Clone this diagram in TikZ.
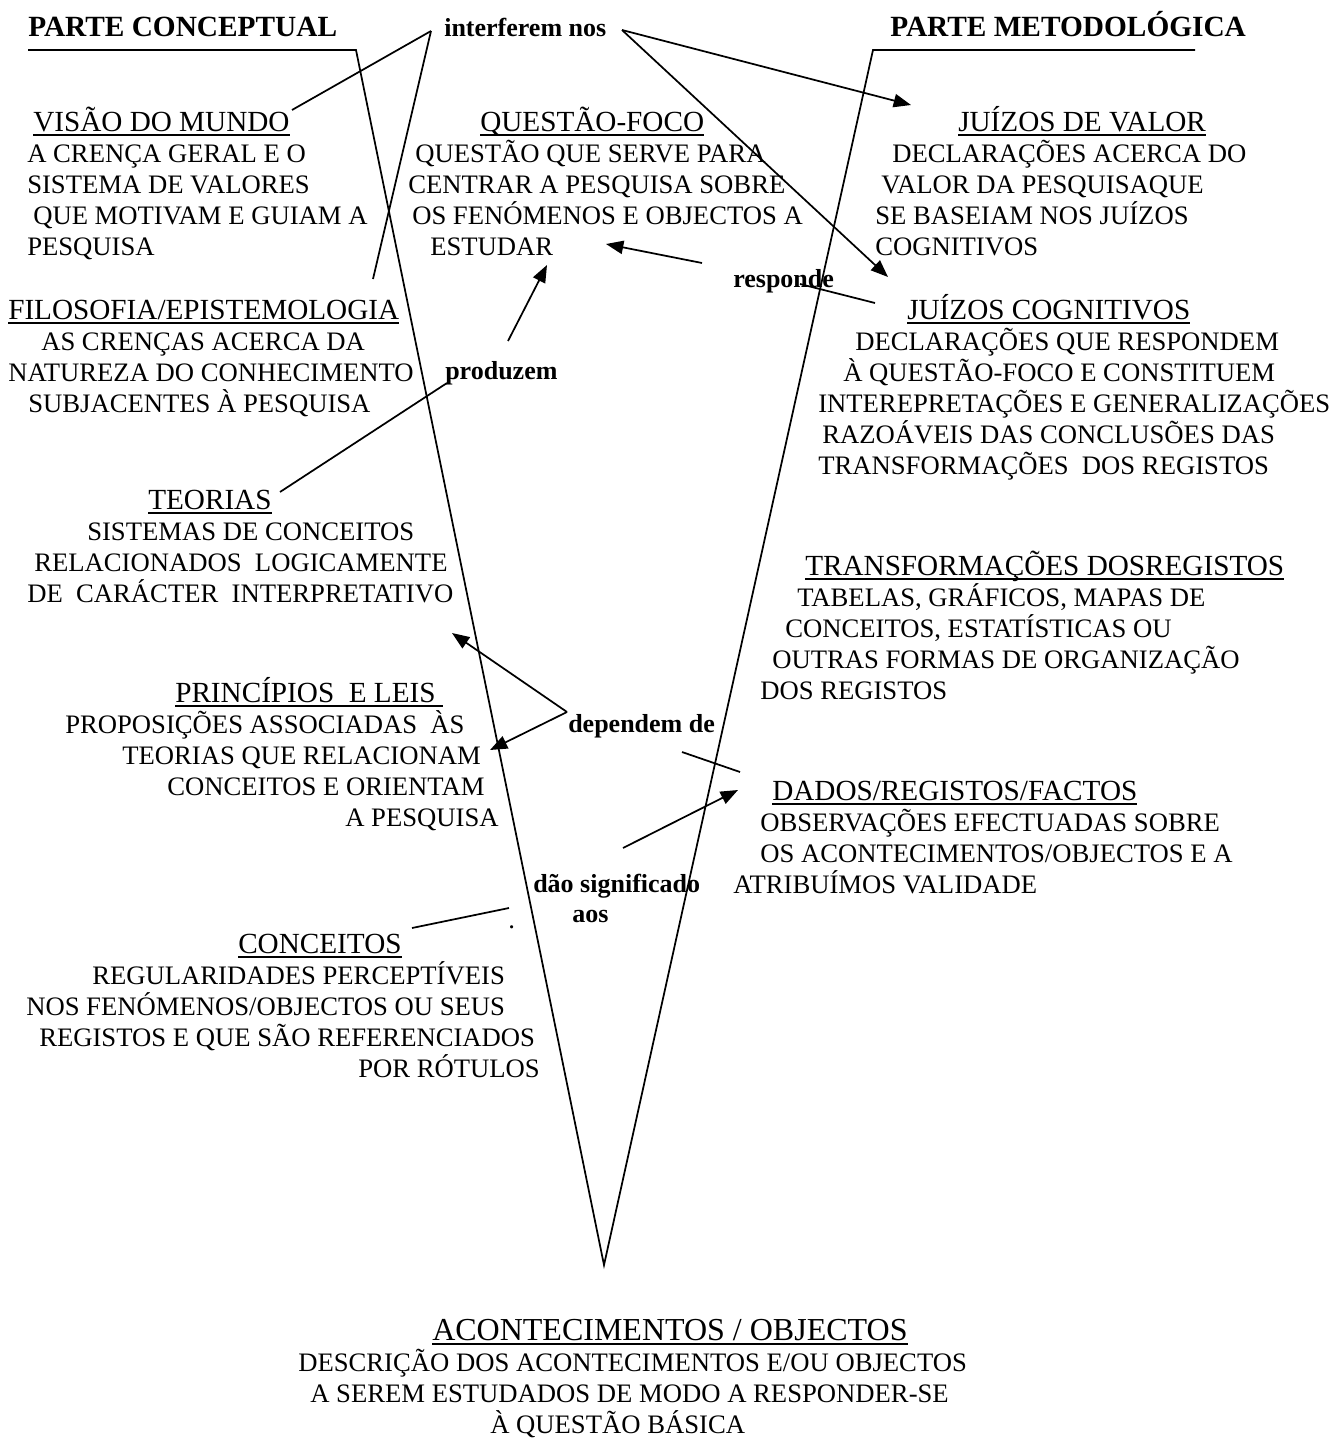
\documentclass[tikz,border=0pt]{standalone}
\usepackage{fontspec}
\setmainfont{Liberation Serif}
\usetikzlibrary{arrows.meta}
\newdimen\pxu \pxu=0.75pt
\newcommand{\ind}[1]{\hspace*{#1\pxu}}
\newcommand{\ul}[1]{\setbox0\hbox{#1}\rlap{\vrule width\wd0 height -2.6pt depth 3.9pt}\box0}
\newcommand{\hd}[1]{{\fontsize{21.9pt}{23.25pt}\selectfont\ul{#1}}}

\begin{document}
\begin{tikzpicture}[x=0.75pt, y=-0.75pt,
  blk/.style={anchor=base west, inner sep=0pt, align=left, font=\fontsize{20pt}{23.25pt}\selectfont},
  lbl/.style={anchor=base west, inner sep=0pt, font=\fontsize{19.5pt}{22.5pt}\selectfont\bfseries},
  ttl/.style={anchor=base west, inner sep=0pt, font=\fontsize{22pt}{24pt}\selectfont\bfseries},
  link/.style={line width=1.3pt},
  arr/.style={link, -{Triangle[length=13pt,width=10pt]}}]
  \useasboundingbox (0,0) rectangle (1344,1438);

  % titles
  \node[ttl] (concl) at (28,37) {PARTE CONCEPTUAL};
  \node[ttl] (methl) at (890,37) {PARTE METODOLÓGICA};
  \node[lbl] (interf) at (444,37) {interferem nos};

  % conceptual side (base = last line)
  \node[blk] (vision) at (27,255) {\ind{6}\hd{VISÃO DO MUNDO}\\A CRENÇA GERAL E O\\SISTEMA DE VALORES\\\ind{6}QUE MOTIVAM E GUIAM A\\PESQUISA};
  \node[blk] (philo) at (8,412) {\hd{FILOSOFIA/EPISTEMOLOGIA}\\\ind{33}AS CRENÇAS ACERCA DA\\NATUREZA DO CONHECIMENTO\\\ind{20}SUBJACENTES À PESQUISA};
  \node[blk] (theory) at (27,602) {\ind{121}\hd{TEORIAS}\\\ind{60}SISTEMAS DE CONCEITOS\\\ind{7}RELACIONADOS\ \ LOGICAMENTE\\DE\ \ CARÁCTER\ \ INTERPRETATIVO};
  \node[blk] (princ) at (65,826) {\ind{110}\hd{PRINCÍPIOS\ \ E LEIS\ }\\PROPOSIÇÕES ASSOCIADAS\ \ ÀS\\\ind{57}TEORIAS QUE RELACIONAM\\\ind{102}CONCEITOS E ORIENTAM\\\ind{280}A PESQUISA};
  \node[blk] (concept) at (26,1077) {\ind{212}\hd{CONCEITOS}\\\ind{66}REGULARIDADES PERCEPTÍVEIS\\NOS FENÓMENOS/OBJECTOS OU SEUS\\\ind{13}REGISTOS E QUE SÃO REFERENCIADOS\\\ind{332}POR RÓTULOS};

  % centre
  \node[blk] (focus) at (408,255) {\ind{72}\hd{QUESTÃO-FOCO}\\\ind{7}QUESTÃO QUE SERVE PARA\\CENTRAR A PESQUISA SOBRE\\\ind{4}OS FENÓMENOS E OBJECTOS A\\\ind{22}ESTUDAR};
  \node[lbl] (answers) at (733,287) {responde};
  \node[lbl] (produce) at (445,379) {produzem};
  \node[lbl] (depend) at (568,732) {dependem de};
  \node[lbl, align=left] (meaning) at (533,922) {dão significado\\\ind{39}aos};
  \node[blk] (dot) at (508,928) {.};
  \node[blk] (events) at (298,1433) {\ind{134}{\fontsize{24pt}{23.25pt}\selectfont\ul{ACONTECIMENTOS / OBJECTOS}}\\DESCRIÇÃO DOS ACONTECIMENTOS E/OU OBJECTOS\\\ind{12}A SEREM ESTUDADOS DE MODO A RESPONDER-SE\\\ind{192}À QUESTÃO BÁSICA};

  % methodological side
  \node[blk] (valuej) at (875,255) {\ind{83}\hd{JUÍZOS DE VALOR}\\\ind{17}DECLARAÇÕES ACERCA DO\\\ind{6}VALOR DA PESQUISAQUE\\SE BASEIAM NOS JUÍZOS\\COGNITIVOS};
  \node[blk] (cognj) at (818,474) {\ind{89}\hd{JUÍZOS COGNITIVOS}\\\ind{37}DECLARAÇÕES QUE RESPONDEM\\\ind{25}À QUESTÃO-FOCO E CONSTITUEM\\INTEREPRETAÇÕES E GENERALIZAÇÕES\\\ind{4}RAZOÁVEIS DAS CONCLUSÕES DAS\\TRANSFORMAÇÕES\ \ DOS REGISTOS};
  \node[blk] (transf) at (760,699) {\ind{45}\hd{TRANSFORMAÇÕES DOSREGISTOS}\\\ind{37}TABELAS, GRÁFICOS, MAPAS DE\\\ind{25}CONCEITOS, ESTATÍSTICAS OU\\\ind{12}OUTRAS FORMAS DE ORGANIZAÇÃO\\DOS REGISTOS};
  \node[blk] (dados) at (733,893) {\ind{39}\hd{DADOS/REGISTOS/FACTOS}\\\ind{27}OBSERVAÇÕES EFECTUADAS SOBRE\\\ind{27}OS ACONTECIMENTOS/OBJECTOS E A\\ATRIBUÍMOS VALIDADE};

  % the V
  \coordinate (ulA) at (28,50);
  \coordinate (vL) at (356,50);
  \coordinate (vR) at (873,50);
  \coordinate (ulB) at (1195,50);
  \coordinate (tip) at (604,1265);
  \draw[link] (ulA) -- (vL) -- (tip) -- (vR) -- (ulB);

  % link ends
  \coordinate (intL) at (431,31);
  \coordinate (intR) at (622,30);
  \coordinate (toVis) at (292,110);
  \coordinate (toPhi) at (373,279);
  \coordinate (toVal) at (911,105);
  \coordinate (toCog) at (888,277);
  \coordinate (ansA) at (702,263);
  \coordinate (ansB) at (606,244);
  \coordinate (ansC) at (800,284);
  \coordinate (ansD) at (875,303);
  \coordinate (proA) at (508,341);
  \coordinate (proB) at (547,265);
  \coordinate (proC) at (447,383);
  \coordinate (proD) at (280,492);
  \coordinate (depA) at (567,712);
  \coordinate (depB) at (452,633);
  \coordinate (depC) at (490,750);
  \coordinate (depD) at (682,752);
  \coordinate (depE) at (740,772);
  \coordinate (meaA) at (623,848);
  \coordinate (meaB) at (738,790);
  \coordinate (conA) at (412,928);
  \coordinate (conB) at (509,908);

  \draw[link] (intL) -- (toVis);
  \draw[link] (intL) -- (toPhi);
  \draw[arr] (intR) -- (toVal);
  \draw[arr] (intR) -- (toCog);
  \draw[arr] (ansA) -- (ansB);
  \draw[link] (ansC) -- (ansD);
  \draw[arr] (proA) -- (proB);
  \draw[link] (proC) -- (proD);
  \draw[arr] (depA) -- (depB);
  \draw[arr] (depA) -- (depC);
  \draw[link] (depD) -- (depE);
  \draw[arr] (meaA) -- (meaB);
  \draw[link] (conA) -- (conB);
\end{tikzpicture}
\end{document}
